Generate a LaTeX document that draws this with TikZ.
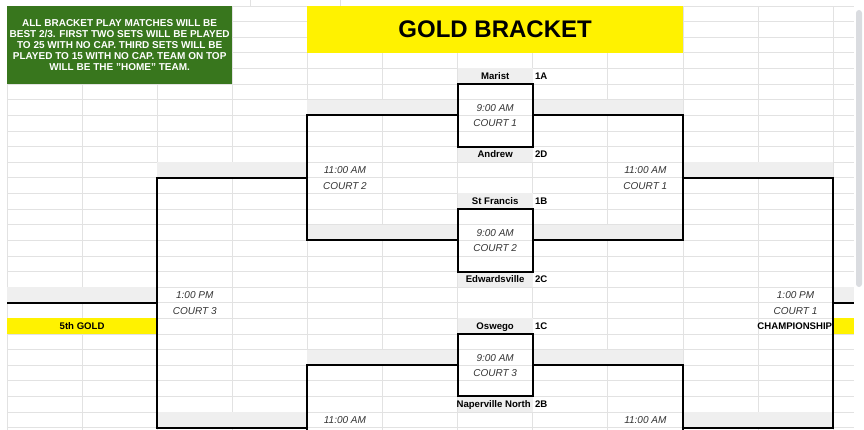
\documentclass[tikz,border=0pt]{standalone}
\usepackage{fontspec}
\setmainfont{Liberation Sans}
\usepackage{xcolor}
\definecolor{sheetgreen}{HTML}{38761D}
\definecolor{sheetgray}{HTML}{EFEFEF}
\definecolor{gridgray}{HTML}{E2E2E2}
\definecolor{scrollgray}{HTML}{DADCE0}
\tikzset{
  gridline/.style={draw=gridgray, line width=0.8pt},
  bracketline/.style={line width=2pt},
  matchbox/.style={draw, line width=2pt, minimum width=75.1pt, minimum height=62.48pt, inner sep=0pt, outer sep=0pt},
  team/.style={font=\bfseries\fontsize{9.6}{12}\selectfont, inner sep=0pt, text height=7pt, text depth=0pt},
  seed/.style={team, anchor=west},
  slot/.style={font=\itshape\fontsize{10}{12}\selectfont, text=black!80, inner sep=0pt, text height=7.2pt, text depth=0pt}
}
\begin{document}
\begin{tikzpicture}[x=75.1pt, y=-15.62pt]
    \useasboundingbox (-0.0932,-0.3841) rectangle (11.4115,27.1447);

    % Sheet grid
    \foreach \r in {0,...,27} \draw[gridline] (0,\r) -- (11.278,\r);
    \foreach \c in {0,...,11} \draw[gridline] (\c,0) -- (\c,27.2);
    \draw[gridline] (3.236,-0.4) -- (3.236,0);
    \draw[gridline] (4.434,-0.4) -- (4.434,0);

    % Shaded cells
    \foreach \r in {4,9,12,17,20,25} \fill[sheetgray] (6,\r) rectangle (7,\r+1);
    \foreach \r in {6,14,22} {
        \fill[sheetgray] (4,\r) rectangle (6,\r+1);
        \fill[sheetgray] (7,\r) rectangle (9,\r+1);
    }
    \foreach \r in {10,26} {
        \fill[sheetgray] (2,\r) rectangle (4,\r+1);
        \fill[sheetgray] (9,\r) rectangle (11,\r+1);
    }
    \fill[sheetgray] (0,18) rectangle (2,19);
    \fill[sheetgray] (11,18) rectangle (11.278,19);
    \fill[yellow] (0,20) rectangle (2,21);
    \fill[yellow] (11,20) rectangle (11.278,21);

    % Header cells
    \node[fill=sheetgreen, text=white, minimum width=225.3pt, minimum height=78.1pt, inner sep=0pt, align=center,
          font=\bfseries\fontsize{10}{11.1}\selectfont] (rules) at (1.5,2.5)
        {ALL BRACKET PLAY MATCHES WILL BE\\BEST 2/3. FIRST TWO SETS WILL BE PLAYED\\TO 25 WITH NO CAP. THIRD SETS WILL BE\\PLAYED TO 15 WITH NO CAP. TEAM ON TOP\\WILL BE THE "HOME" TEAM.};
    \node[fill=yellow, minimum width=375.5pt, minimum height=46.86pt, inner sep=0pt,
          font=\bfseries\fontsize{24}{28}\selectfont] (heading) at (6.5,1.5) {GOLD BRACKET};

    % First round
    \node[matchbox] (m1) at (6.5,7) {};
    \node[matchbox] (m2) at (6.5,15) {};
    \node[matchbox] (m3) at (6.5,23) {};
    \node[slot] (m1time) at (6.5,6.5) {9:00 AM};
    \node[slot] (m1court) at (6.5,7.5) {COURT 1};
    \node[slot] (m2time) at (6.5,14.5) {9:00 AM};
    \node[slot] (m2court) at (6.5,15.5) {COURT 2};
    \node[slot] (m3time) at (6.5,22.5) {9:00 AM};
    \node[slot] (m3court) at (6.5,23.5) {COURT 3};

    % Teams and seeds
    \node[team] (marist) at (6.5,4.5) {Marist};
    \node[seed] (s1A) at (7.03,4.5) {1A};
    \node[team] (andrew) at (6.5,9.5) {Andrew};
    \node[seed] (s2D) at (7.03,9.5) {2D};
    \node[team] (stfrancis) at (6.5,12.5) {St Francis};
    \node[seed] (s1B) at (7.03,12.5) {1B};
    \node[team] (edwardsville) at (6.5,17.5) {Edwardsville};
    \node[seed] (s2C) at (7.03,17.5) {2C};
    \node[team] (oswego) at (6.5,20.5) {Oswego};
    \node[seed] (s1C) at (7.03,20.5) {1C};
    \node[team] (naperville) at (6.48,25.5) {Naperville North};
    \node[seed] (s2B) at (7.03,25.5) {2B};

    % Later rounds
    \node[slot] (qlTime) at (4.5,10.5) {11:00 AM};
    \node[slot] (qlCourt) at (4.5,11.5) {COURT 2};
    \node[slot] (qrTime) at (8.5,10.5) {11:00 AM};
    \node[slot] (qrCourt) at (8.5,11.5) {COURT 1};
    \node[slot] (slTime) at (2.5,18.5) {1:00 PM};
    \node[slot] (slCourt) at (2.5,19.5) {COURT 3};
    \node[slot] (srTime) at (10.5,18.5) {1:00 PM};
    \node[slot] (srCourt) at (10.5,19.5) {COURT 1};
    \node[team] (fifth) at (1,20.5) {5th GOLD};
    \node[team] (championship) at (10.49,20.5) {CHAMPIONSHIP};
    \node[slot] (ql2Time) at (4.5,26.5) {11:00 AM};
    \node[slot] (qr2Time) at (8.5,26.5) {11:00 AM};

    % Bracket joints
    \coordinate (w1) at (4,11);
    \coordinate (e1) at (9,11);
    \coordinate (w2) at (4,27);
    \coordinate (e2) at (9,27);
    \coordinate (w3) at (4,27.6);
    \coordinate (e3) at (9,27.6);
    \coordinate (sfL) at (2,19);
    \coordinate (sfR) at (11,19);
    \coordinate (lost) at (0,19);
    \coordinate (champ) at (11.278,19);

    % Bracket lines
    \draw[bracketline] (m1.west) -| (w1) |- (m2.west);
    \draw[bracketline] (m1.east) -| (e1) |- (m2.east);
    \draw[bracketline] (w1) -| (sfL) |- (w2);
    \draw[bracketline] (e1) -| (sfR) |- (e2);
    \draw[bracketline] (sfL) -- (lost);
    \draw[bracketline] (sfR) -- (champ);
    \draw[bracketline] (m3.west) -| (w3);
    \draw[bracketline] (m3.east) -| (e3);

    % Scroll bar
    \fill[scrollgray, rounded corners=3pt] (11.305,0.256) rectangle (11.385,17.99);
\end{tikzpicture}
\end{document}
